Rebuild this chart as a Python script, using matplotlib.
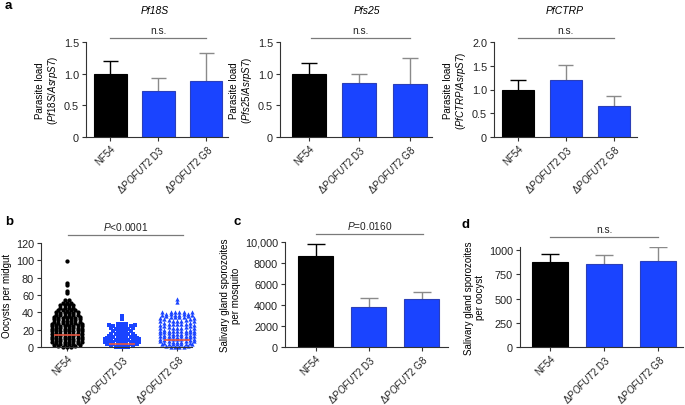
import matplotlib.pyplot as plt
import numpy as np

plt.rcParams['font.family'] = 'Liberation Sans'
plt.rcParams['mathtext.fontset'] = 'custom'
plt.rcParams['mathtext.rm'] = 'Liberation Sans'
plt.rcParams['mathtext.it'] = 'Liberation Sans:italic'
plt.rcParams['font.size'] = 7.8

W, H = 685, 406

groups = ['NF54', r'Δ$\mathit{POFUT2}$ D3', r'Δ$\mathit{POFUT2}$ G8']

# panel a: parasite load (mean, upper error)
pf18s_mean = [1.0, 0.72, 0.88]
pf18s_err = [1.20, 0.93, 1.32]
pfs25_mean = [1.0, 0.85, 0.83]
pfs25_err = [1.17, 0.99, 1.24]
pfctrp_mean = [1.0, 1.20, 0.65]
pfctrp_err = [1.20, 1.51, 0.87]

# panel b: oocysts per midgut (value, number of mosquitoes)
nf54_vals = [99, 74, 71, 65, 62, 54, 51, 48, 45, 42, 39, 36, 33, 30, 27, 24, 21,
             18, 15, 12, 9, 6, 3, 0]
nf54_counts = [1, 1, 1, 1, 1, 2, 3, 4, 4, 5, 6, 6, 7, 7, 7, 8, 8,
               8, 8, 8, 8, 8, 8, 7]
d3_vals = [36, 32, 26, 23, 20, 17, 14, 11, 8, 5, 2, 0]
d3_counts = [1, 1, 3, 7, 6, 5, 6, 7, 8, 9, 9, 8]
g8_vals = [55, 52, 40, 37, 34, 30, 26, 22, 18, 15, 12, 9, 6, 3, 0]
g8_counts = [1, 1, 4, 8, 8, 9, 9, 9, 9, 9, 9, 9, 9, 9, 8]
oocyst_median = [14, 4, 8]

# panel c / d
spz_mosq_mean = [8700, 3850, 4600]
spz_mosq_err = [9800, 4700, 5200]
spz_oocyst_mean = [875, 860, 890]
spz_oocyst_err = [960, 945, 1030]

BLACK = '#000000'
BLUE = '#1a44ff'
BLUE_EDGE = '#2b3fb8'
ERR_GRAY = '#8a8a8a'
AXCOL = '#333333'
bar_colors = [BLACK, BLUE, BLUE]
edge_colors = [BLACK, BLUE_EDGE, BLUE_EDGE]
err_colors = [BLACK, ERR_GRAY, ERR_GRAY]

fig = plt.figure(figsize=(W / 100, H / 100), dpi=100)


def make_ax(l, r, top, bottom):
    return fig.add_axes([l / W, 1 - bottom / H, (r - l) / W, (bottom - top) / H])


def style(ax, xlim, ylim, yticks, yticklabels):
    for s in ['top', 'right']:
        ax.spines[s].set_visible(False)
    for s in ['left', 'bottom']:
        ax.spines[s].set_color(AXCOL)
        ax.spines[s].set_linewidth(0.8)
    ax.set_xlim(*xlim)
    ax.set_ylim(*ylim)
    ax.set_yticks(yticks)
    ax.set_yticklabels(yticklabels)
    ax.set_xticks(range(3))
    ax.set_xticklabels(groups, rotation=45, ha='right', rotation_mode='anchor',
                       fontsize=7)
    ax.tick_params(colors=AXCOL, labelcolor='#222222', length=3, width=0.8, pad=2)
    ax.tick_params(axis='x', pad=1)


def bars(ax, mean, err, cap=0.16):
    x = np.arange(3)
    ax.bar(x, mean, width=0.67, color=bar_colors, edgecolor=edge_colors,
           linewidth=0.8, zorder=2)
    for i in range(3):
        ax.vlines(x[i], mean[i], err[i], color=err_colors[i], lw=1.0, zorder=1)
        ax.hlines(err[i], x[i] - cap, x[i] + cap, color=err_colors[i], lw=1.0, zorder=1)


def sig(ax, y, text, x0=0, x1=2):
    ax.plot([x0, x1], [y, y], color='#7a7a7a', lw=0.9, clip_on=False)
    ax.annotate(text, xy=((x0 + x1) / 2, y), xytext=(0, 2), textcoords='offset points',
                ha='center', va='bottom', fontsize=7.3, color='#222222',
                annotation_clip=False)


# ---- panel a
a_specs = [
    (86, 228, (-0.51, 2.45), pf18s_mean, pf18s_err, 'Pf18S', 1.5, 155),
    (280, 432, (-0.57, 2.44), pfs25_mean, pfs25_err, 'Pfs25', 1.5, 367),
    (494, 637, (-0.5, 2.49), pfctrp_mean, pfctrp_err, 'PfCTRP', 2.0, 565),
]
for l, r, xl, m, e, gene, ytop, tx in a_specs:
    ax = make_ax(l, r, 43, 138)
    bars(ax, m, e)
    ticks = np.arange(0, ytop + 0.01, 0.5)
    style(ax, xl, (0, ytop), ticks, ['0'] + [f'{t:.1f}' for t in ticks[1:]])
    ax.set_ylabel('Parasite load\n(' + r'$\mathit{' + gene + '/AsrpS7}$' + ')',
                  labelpad=3, linespacing=1.1, fontsize=7)
    sig(ax, ytop * 1.042, 'n.s.', 0.05 if gene == 'Pfs25' else 0)
    fig.text(tx / W, 1 - 11 / H, gene, style='italic', ha='center', va='center',
             fontsize=7.5)

# ---- panel b
ax = make_ax(41, 192, 244, 348)
markers = ['o', 's', '^']
mcolors = [BLACK, BLUE, BLUE]
for gi, (vals, counts) in enumerate([(nf54_vals, nf54_counts),
                                      (d3_vals, d3_counts),
                                      (g8_vals, g8_counts)]):
    xs, ys = [], []
    for v, n in zip(vals, counts):
        offs = (np.arange(n) - (n - 1) / 2) * 0.078
        xs.extend(gi + offs)
        ys.extend(v + (offs / 0.3) ** 2 * 3.5)
    ax.scatter(xs, ys, marker=markers[gi], s=9.5, color=mcolors[gi], linewidths=0,
               zorder=2, clip_on=False)
    ax.hlines(oocyst_median[gi], gi - 0.23, gi + 0.23, color='#e8553f', lw=1.4,
              alpha=0.85, zorder=3)
style(ax, (-0.47, 2.27), (0, 120), range(0, 121, 20), [str(v) for v in range(0, 121, 20)])
ax.set_ylabel('Oocysts per midgut', labelpad=3, fontsize=7)
sig(ax, 129, r'$\mathit{P}$<0.0001', 0.02, 2.1)

# ---- panel c
ax = make_ax(285, 448, 243, 348)
bars(ax, spz_mosq_mean, spz_mosq_err, cap=0.17)
style(ax, (-0.58, 2.5), (0, 10000), range(0, 10001, 2000),
      ['0', '2000', '4000', '6000', '8000', '10,000'])
ax.set_ylabel('Salivary gland sporozoites\nper mosquito', labelpad=3, linespacing=1.1,
              fontsize=7)
sig(ax, 10760, r'$\mathit{P}$=0.0160', 0, 2.03)

# ---- panel d
ax = make_ax(520, 683, 248, 348)
bars(ax, spz_oocyst_mean, spz_oocyst_err, cap=0.17)
style(ax, (-0.56, 2.46), (0, 1031), range(0, 1001, 250),
      [str(v) for v in range(0, 1001, 250)])
ax.set_ylabel('Salivary gland sporozoites\nper oocyst', labelpad=3, linespacing=1.1,
              fontsize=7)
sig(ax, 1134, 'n.s.', 0, 2)

# panel letters
for letter, px, py in [('a', 5, 6), ('b', 5, 222), ('c', 234, 222), ('d', 461, 225)]:
    fig.text(px / W, 1 - py / H, letter, fontweight='bold', fontsize=9.5,
             ha='left', va='center')

fig.savefig('out.png', dpi=100)
